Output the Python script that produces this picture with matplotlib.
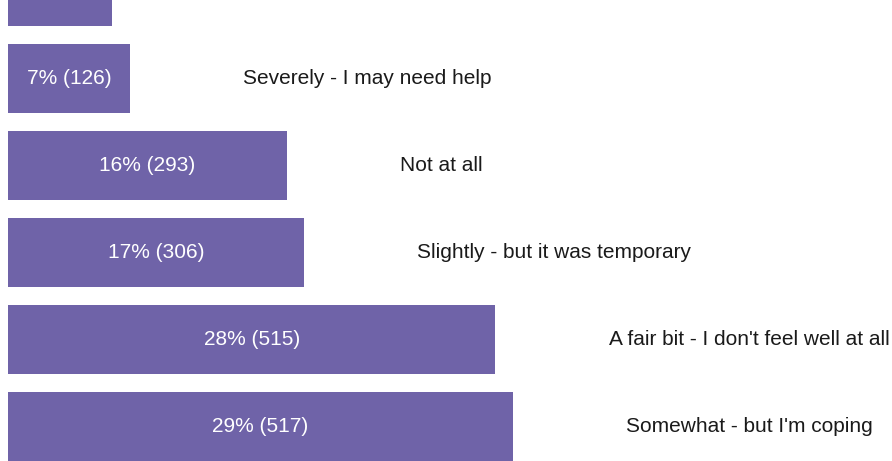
import matplotlib
matplotlib.use("Agg")
import matplotlib.pyplot as plt

# Data (top bar partly cut off in the reference; its labels are not visible)
categories = ["", "Severely - I may need help", "Not at all",
              "Slightly - but it was temporary",
              "A fair bit - I don't feel well at all",
              "Somewhat - but I'm coping"]
percents = [6, 7, 16, 17, 28, 29]
counts = [None, 126, 293, 306, 515, 517]

bar_color = "#6f63a8"

fig = plt.figure(figsize=(8.92, 4.61), dpi=100)
ax = fig.add_axes([0, 0, 1, 1])
plt.rcParams['font.family'] = ['Liberation Sans', 'DejaVu Sans']

y = list(range(len(percents)))
ax.barh(y, percents, height=0.793, color=bar_color, left=0)

for i, (p, c, cat) in enumerate(zip(percents, counts, categories)):
    if c is not None:
        ax.text(p / 2, i, f"{p}% ({c})", ha="center", va="center",
                color="white", fontsize=15, family=['Liberation Sans', 'DejaVu Sans'])
    if cat:
        ax.annotate(cat, xy=(p, i), xytext=(81.4, 0), textcoords="offset points",
                    ha="left", va="center", color="#1a1a1a", fontsize=15,
                    family=['Liberation Sans', 'DejaVu Sans'])

px_per_pct = 17.41
ax.set_xlim(-8 / px_per_pct, 884 / px_per_pct)
ax.set_ylim(469.5 / 87, 8.5 / 87)
ax.axis("off")

fig.savefig("out.png", dpi=100)
